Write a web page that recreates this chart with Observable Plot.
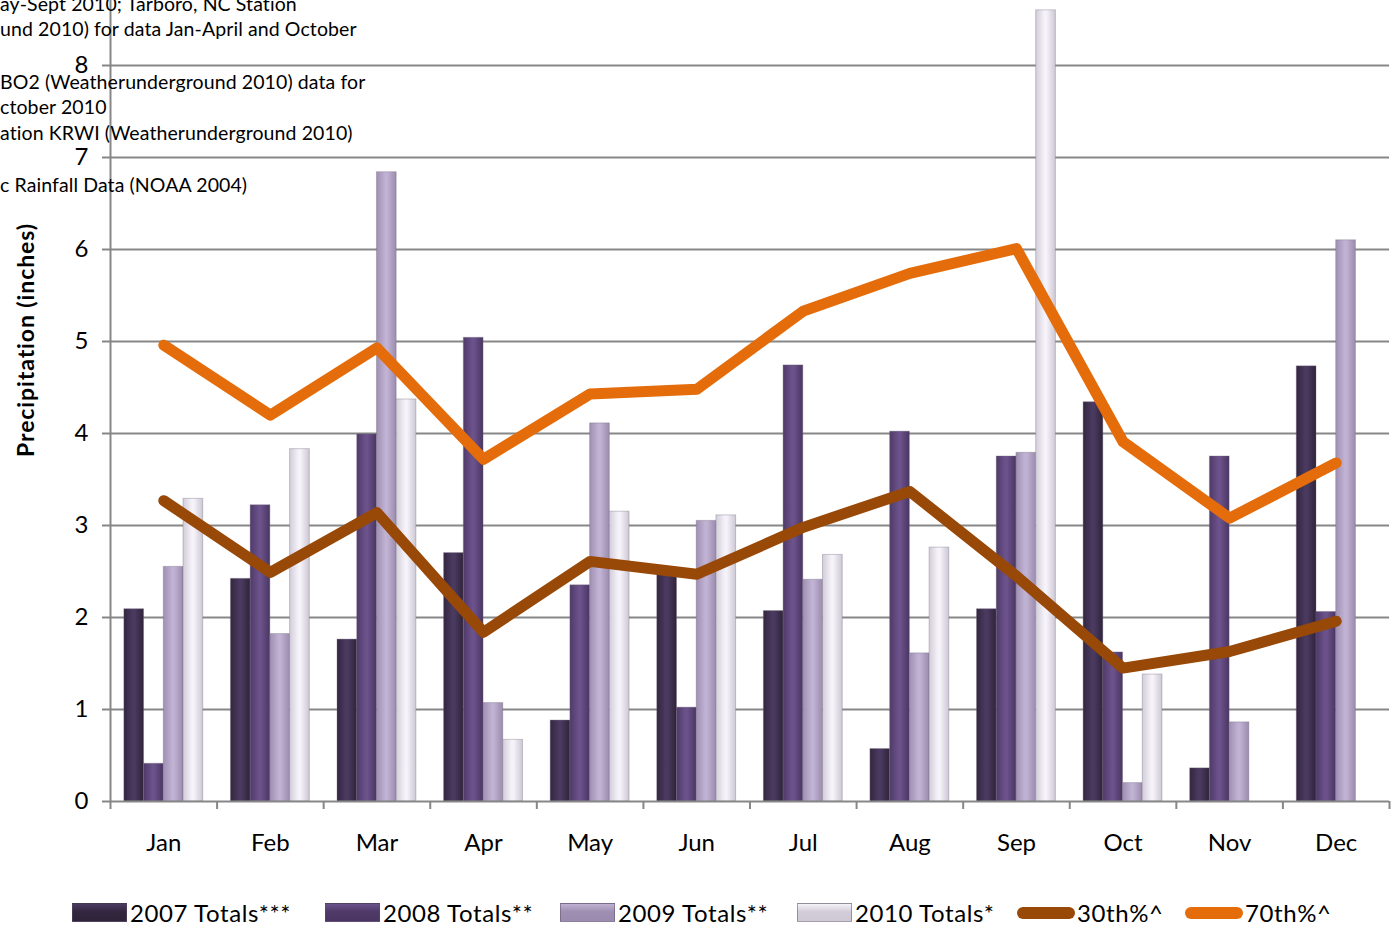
<!DOCTYPE html>
<html>
<head>
<meta charset="utf-8">
<script src="https://cdn.jsdelivr.net/npm/d3@7"></script>
<script src="https://cdn.jsdelivr.net/npm/@observablehq/plot@0.6"></script>
<style>
  html, body { margin: 0; padding: 0; background: #fff; }
  body { width: 1391px; height: 927px; position: relative; overflow: hidden; font-family: Lato, "Open Sans", sans-serif; color: #000; }
  #chart { position: absolute; left: 0; top: 0; }
  .note { position: absolute; left: 0; font-size: 19.5px; letter-spacing: 0.1px; white-space: nowrap; line-height: 1; }
  #ylabel { position: absolute; left: 25px; top: 340px; transform: translate(-50%, -50%) rotate(-90deg); font-size: 23px; letter-spacing: 0.9px; font-weight: bold; white-space: nowrap; }
  .leg { position: absolute; top: 898px; display: flex; align-items: center; font-size: 24px; letter-spacing: 0.6px; white-space: nowrap; }
  .sw { width: 55px; height: 19px; margin-right: 3px; box-sizing: border-box; }
  .ln { width: 58px; height: 12px; border-radius: 6px; margin-right: 2px; }
</style>
</head>
<body>
<div id="chart"></div>
<div class="note" style="top:-6px">ay-Sept 2010; Tarboro, NC Station</div>
<div class="note" style="top:19px">und 2010) for data Jan-April and October</div>
<div class="note" style="top:72px">BO2 (Weatherunderground 2010) data for</div>
<div class="note" style="top:97px">ctober 2010</div>
<div class="note" style="top:123px">ation KRWI (Weatherunderground 2010)</div>
<div class="note" style="top:175px">c Rainfall Data (NOAA 2004)</div>
<div id="ylabel">Precipitation (inches)</div>
<div id="legend"></div>
<script>
// ---- Data ----
const months = ["Jan","Feb","Mar","Apr","May","Jun","Jul","Aug","Sep","Oct","Nov","Dec"];
const totals2007 = [2.09, 2.42, 1.76, 2.70, 0.88, 2.47, 2.07, 0.57, 2.09, 4.34, 0.36, 4.73];
const totals2008 = [0.41, 3.22, 3.99, 5.04, 2.35, 1.02, 4.74, 4.02, 3.75, 1.62, 3.75, 2.06];
const totals2009 = [2.55, 1.82, 6.84, 1.07, 4.11, 3.05, 2.41, 1.61, 3.79, 0.20, 0.86, 6.10];
const totals2010 = [3.29, 3.83, 4.37, 0.67, 3.15, 3.11, 2.68, 2.76, 8.60, 1.38, null, null];
const pct30 = [3.27, 2.49, 3.14, 1.84, 2.61, 2.47, 2.98, 3.37, 2.45, 1.45, 1.63, 1.96];
const pct70 = [4.96, 4.20, 4.93, 3.72, 4.43, 4.48, 5.33, 5.74, 6.01, 3.91, 3.08, 3.68];
const yTicks = [0, 1, 2, 3, 4, 5, 6, 7, 8];
const seriesNames = ["2007 Totals***", "2008 Totals**", "2009 Totals**", "2010 Totals*"];
const lineNames = ["30th%^", "70th%^"];

const barSeries = [totals2007, totals2008, totals2009, totals2010];
const gradients = [
  ["#33263f", "#4a3a60", "#2f2339"],
  ["#4f3a68", "#6b528b", "#4a3562"],
  ["#9f8fb3", "#c0b2d3", "#9b8bae"],
  ["#d2cdd9", "#f5f2f9", "#cdc8d4"]
];
const lineColors = ["#984807", "#E46C0A"];
const grid = "#878787";

const idx = months.map((m, i) => i);
const slot = 0.185, start = -0.37;

const barMarks = barSeries.map((vals, k) => {
  const data = idx.filter(i => vals[i] != null);
  return Plot.rectY(data, {
    x1: i => i + start + k * slot,
    x2: i => i + start + (k + 1) * slot,
    y1: 0,
    y2: i => vals[i],
    fill: `url(#g${k})`,
    stroke: "#6f6878",
    strokeOpacity: 0.35,
    strokeWidth: 1
  });
});

const chart = Plot.plot({
  width: 1391,
  height: 870,
  marginLeft: 110,
  marginRight: 2,
  marginTop: 0,
  marginBottom: 69,
  x: { type: "linear", domain: [-0.5, 11.5] },
  y: { domain: [0, 801 / 92] },
  style: { fontFamily: "Lato, 'Open Sans', sans-serif", color: "#000", background: "transparent" },
  marks: [
    Plot.ruleY(yTicks.slice(1), { stroke: grid, strokeWidth: 2 }),
    ...barMarks,
    Plot.ruleY([0], { stroke: grid, strokeWidth: 2 }),
    Plot.ruleX([-0.5], { stroke: grid, strokeWidth: 2 }),
    Plot.axisY({ ticks: yTicks, tickSize: 8, tickPadding: 14, fontSize: 24, label: null, stroke: grid, strokeWidth: 2 }),
    Plot.axisX({ ticks: d3.range(-0.5, 12, 1), tickSize: 8, tickFormat: () => "", label: null, stroke: grid, strokeWidth: 2 }),
    Plot.axisX({ ticks: idx, tickSize: 0, tickPadding: 32, tickFormat: i => months[Math.round(i)], fontSize: 24, label: null }),
    Plot.line(idx, { x: i => i, y: i => pct30[i], stroke: lineColors[0], strokeWidth: 11, strokeLinejoin: "round", strokeLinecap: "round" }),
    Plot.line(idx, { x: i => i, y: i => pct70[i], stroke: lineColors[1], strokeWidth: 11, strokeLinejoin: "round", strokeLinecap: "round" })
  ]
});

// gradient defs for bars
const svg = d3.select(chart);
const defs = svg.insert("defs", ":first-child");
gradients.forEach((g, k) => {
  const lg = defs.append("linearGradient").attr("id", `g${k}`).attr("x1", "0").attr("x2", "1").attr("y1", "0").attr("y2", "0");
  lg.append("stop").attr("offset", "0").attr("stop-color", g[0]);
  lg.append("stop").attr("offset", "0.45").attr("stop-color", g[1]);
  lg.append("stop").attr("offset", "0.55").attr("stop-color", g[1]);
  lg.append("stop").attr("offset", "1").attr("stop-color", g[2]);
});
document.getElementById("chart").appendChild(chart);

// legend
const legend = document.getElementById("legend");
const legPos = [72, 325, 560, 797];
seriesNames.forEach((name, k) => {
  const g = gradients[k];
  const item = document.createElement("div");
  item.className = "leg";
  item.style.left = legPos[k] + "px";
  item.innerHTML = `<div class="sw" style="background:linear-gradient(to bottom, ${g[1]}, ${g[0]} 45%, ${g[2]}); border:1px solid rgba(90,80,100,0.5)"></div><span>${name}</span>`;
  legend.appendChild(item);
});
const linePos = [1017, 1185];
lineNames.forEach((name, k) => {
  const item = document.createElement("div");
  item.className = "leg";
  item.style.left = linePos[k] + "px";
  item.innerHTML = `<div class="ln" style="background:${lineColors[k]}"></div><span>${name}</span>`;
  legend.appendChild(item);
});
</script>
</body>
</html>
